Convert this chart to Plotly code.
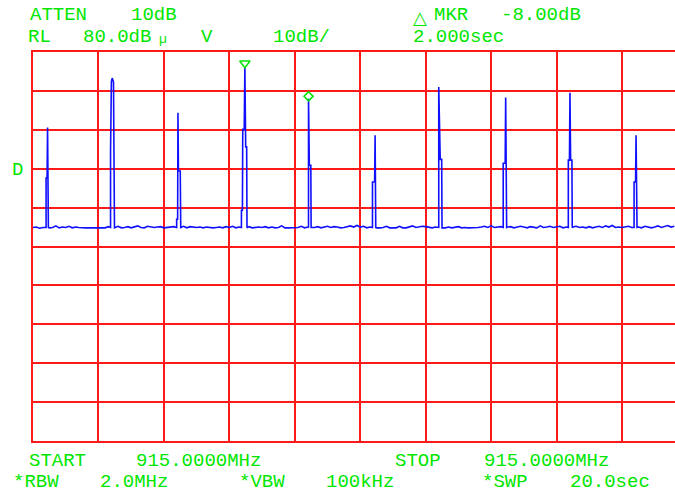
import plotly.graph_objects as go

# ---------------- data ----------------
sweep_time_s = 20.0           # full sweep (10 div x 2 s)
visible_time_s = 19.62        # portion visible in the picture
ref_level_db = 80.0
db_per_div = 10.0

noise_step_s = 0.1
noise_db = [
    34.9, 35.0, 34.7, 34.9, 35.1, 34.8, 34.9, 35.3, 34.8, 35.0, 34.9, 35.2, 34.8, 35.0, 34.9, 34.8, 34.8, 34.8, 34.8, 34.8,
    34.8, 34.8, 34.8, 35.1, 34.6, 35.0, 35.2, 34.8, 34.9, 35.1, 34.8, 35.0, 35.3, 34.9, 34.8, 35.2, 35.0, 34.9, 35.0, 35.1,
    34.8, 34.9, 35.0, 35.1, 35.0, 34.9, 35.2, 34.8, 35.1, 35.0, 34.9, 35.0, 34.8, 35.0, 34.9, 34.8, 34.9, 35.0, 34.8, 35.1,
    34.9, 35.2, 34.8, 35.0, 34.8, 35.0, 35.1, 34.8, 34.9, 35.0, 34.9, 35.1, 34.8, 35.0, 34.8, 34.9, 35.3, 34.8, 34.8, 34.8,
    34.8, 34.9, 35.2, 34.8, 35.0, 35.3, 34.9, 35.1, 34.8, 35.0, 35.2, 34.9, 35.1, 35.0, 34.8, 34.9, 35.1, 35.3, 35.0, 35.4,
    35.0, 35.2, 34.8, 35.0, 34.8, 34.8, 34.8, 34.9, 35.2, 34.8, 34.8, 34.8, 35.2, 34.8, 34.8, 35.1, 35.3, 34.9, 35.0, 35.2,
    35.1, 35.0, 34.8, 35.0, 34.9, 35.1, 34.8, 35.0, 34.8, 34.9, 35.1, 34.8, 34.9, 34.8, 34.8, 34.8, 34.9, 35.0, 35.2, 34.9,
    35.3, 34.9, 35.0, 35.1, 34.8, 35.0, 35.1, 34.8, 35.0, 35.2, 35.0, 34.8, 35.1, 35.0, 34.8, 35.3, 34.9, 35.0, 35.2, 34.9,
    35.0, 35.2, 34.8, 35.0, 34.9, 35.0, 35.2, 34.9, 35.0, 34.8, 35.1, 34.8, 35.0, 35.2, 34.9, 35.3, 35.0, 35.4, 34.9, 35.0,
    34.9, 35.0, 35.2, 34.9, 35.1, 35.0, 34.8, 35.2, 34.9, 34.8, 35.0, 35.3, 34.9, 35.1, 35.4, 35.0, 35.2,
]

spike_floor_db = 34.9
# each burst: sample times (s) and levels (dB)
burst_t = [
    [0.40, 0.43, 0.445, 0.47],
    [2.37, 2.395, 2.42, 2.46, 2.475, 2.49],
    [4.39, 4.42, 4.43, 4.445, 4.50, 4.515],
    [6.37, 6.40, 6.41, 6.455, 6.475, 6.50, 6.53, 6.54],
    [8.42, 8.445, 8.49, 8.50],
    [10.375, 10.44, 10.455, 10.475],
    [12.40, 12.445, 12.49, 12.50],
    [14.37, 14.43, 14.445, 14.475],
    [16.36, 16.395, 16.41, 16.43, 16.47, 16.48],
    [18.37, 18.415, 18.43, 18.46],
]
burst_db = [
    [47.6, 47.6, 60.6, 34.9],
    [54.5, 72.3, 73.3, 72.3, 53.0, 34.8],
    [37.0, 37.0, 64.4, 49.4, 49.4, 34.9],
    [39.3, 39.3, 60.1, 60.1, 76.1, 55.6, 55.6, 34.8],
    [68.0, 50.9, 50.9, 34.9],
    [46.6, 46.6, 58.6, 34.9],
    [71.0, 52.4, 52.4, 34.8],
    [51.4, 51.4, 68.3, 34.9],
    [52.2, 52.2, 69.5, 52.2, 52.2, 34.8],
    [46.6, 46.6, 58.6, 34.9],
]

marker_burst = 3        # main marker (index into bursts)
delta_burst = 4         # delta marker

top_line1 = ["ATTEN", "10dB", "MKR", "-8.00dB"]
top_line2 = ["RL", "80.0dB", "V", "10dB/", "2.000sec"]
bottom_line1 = ["START", "915.0000MHz", "STOP", "915.0000MHz"]
bottom_line2 = ["*RBW", "2.0MHz", "*VBW", "100kHz", "*SWP", "20.0sec"]
side_label = "D"

# ---------------- build trace ----------------
points = []
windows = [(ts[0] - 0.01, ts[-1] + 0.01) for ts in burst_t]
for i, v in enumerate(noise_db):
    t = i * noise_step_s
    if any(a <= t <= b for a, b in windows):
        continue
    points.append((t, v))
for ts, vs in zip(burst_t, burst_db):
    points.append((ts[0] - 1e-4, spike_floor_db))
    for t, v in zip(ts, vs):
        points.append((t, v))
points.sort(key=lambda p: p[0])
xs = [p[0] for p in points]
ys = [p[1] for p in points]

BLUE = "#1010ff"
RED = "#ff1a1a"
GREEN = "#00e600"

fig = go.Figure()
fig.add_trace(go.Scatter(x=xs, y=ys, mode="lines",
                         line=dict(color=BLUE, width=1.6), hoverinfo="skip"))

# markers
mk_i = burst_db[marker_burst].index(max(burst_db[marker_burst]))
fig.add_trace(go.Scatter(x=[burst_t[marker_burst][mk_i]], y=[max(burst_db[marker_burst]) + 1.0],
                         mode="markers",
                         marker=dict(symbol="triangle-down-open", size=9, color=GREEN,
                                     line=dict(width=1.5, color=GREEN))))
dk_i = burst_db[delta_burst].index(max(burst_db[delta_burst]))
fig.add_trace(go.Scatter(x=[burst_t[delta_burst][dk_i]], y=[max(burst_db[delta_burst]) + 0.6],
                         mode="markers",
                         marker=dict(symbol="diamond-open", size=7, color=GREEN,
                                     line=dict(width=1.5, color=GREEN))))

# ---------------- layout ----------------
W, H = 675, 492
L, T, B = 33, 52, 51
PW, PH = W - L, H - T - B

def px(x):
    return (x - L) / PW

def py(y):
    return (H - B - y) / PH

FONT = "Liberation Mono"
ann = []
def label(text, cx, cy, size=19, family=FONT):
    ann.append(dict(text=text, x=px(cx), y=py(cy), xref="paper", yref="paper",
                    xanchor="center", yanchor="middle", showarrow=False,
                    font=dict(family=family, size=size, color=GREEN)))

for text, cx in zip(top_line1, [58, 153.5, 451, 540.5]):
    label(text, cx, 15)
label("△", 420, 17, size=18, family="DejaVu Sans")
for text, cx in zip(top_line2, [39, 117.3, 207, 301, 458.3]):
    label(text, cx, 37)
label("µ", 163, 40, size=13)
for text, cx in zip(bottom_line1, [57.7, 198.7, 418.3, 546.7]):
    label(text, cx, 461)
for text, cx in zip(bottom_line2, [36, 134, 262, 360, 505, 609.5]):
    label(text, cx, 482)
label(side_label, 17.5, 170)

fig.update_layout(
    width=W, height=H,
    margin=dict(l=L, r=0, t=T, b=B, pad=0),
    paper_bgcolor="white", plot_bgcolor="white",
    showlegend=False,
    annotations=ann,
    xaxis=dict(range=[0, visible_time_s], dtick=sweep_time_s / 10, tick0=0,
               showgrid=True, gridcolor=RED, gridwidth=1.5,
               showticklabels=False, ticks="", zeroline=False,
               showline=True, linecolor=RED, linewidth=1.5, mirror=True),
    yaxis=dict(range=[ref_level_db - 10 * db_per_div, ref_level_db], dtick=db_per_div,
               showgrid=True, gridcolor=RED, gridwidth=1.5,
               showticklabels=False, ticks="", zeroline=False,
               showline=True, linecolor=RED, linewidth=1.5, mirror=False),
)

fig.write_html("out.html", config={"displayModeBar": False},
               post_script="document.body.style.margin='0';document.body.style.overflow='hidden';")
